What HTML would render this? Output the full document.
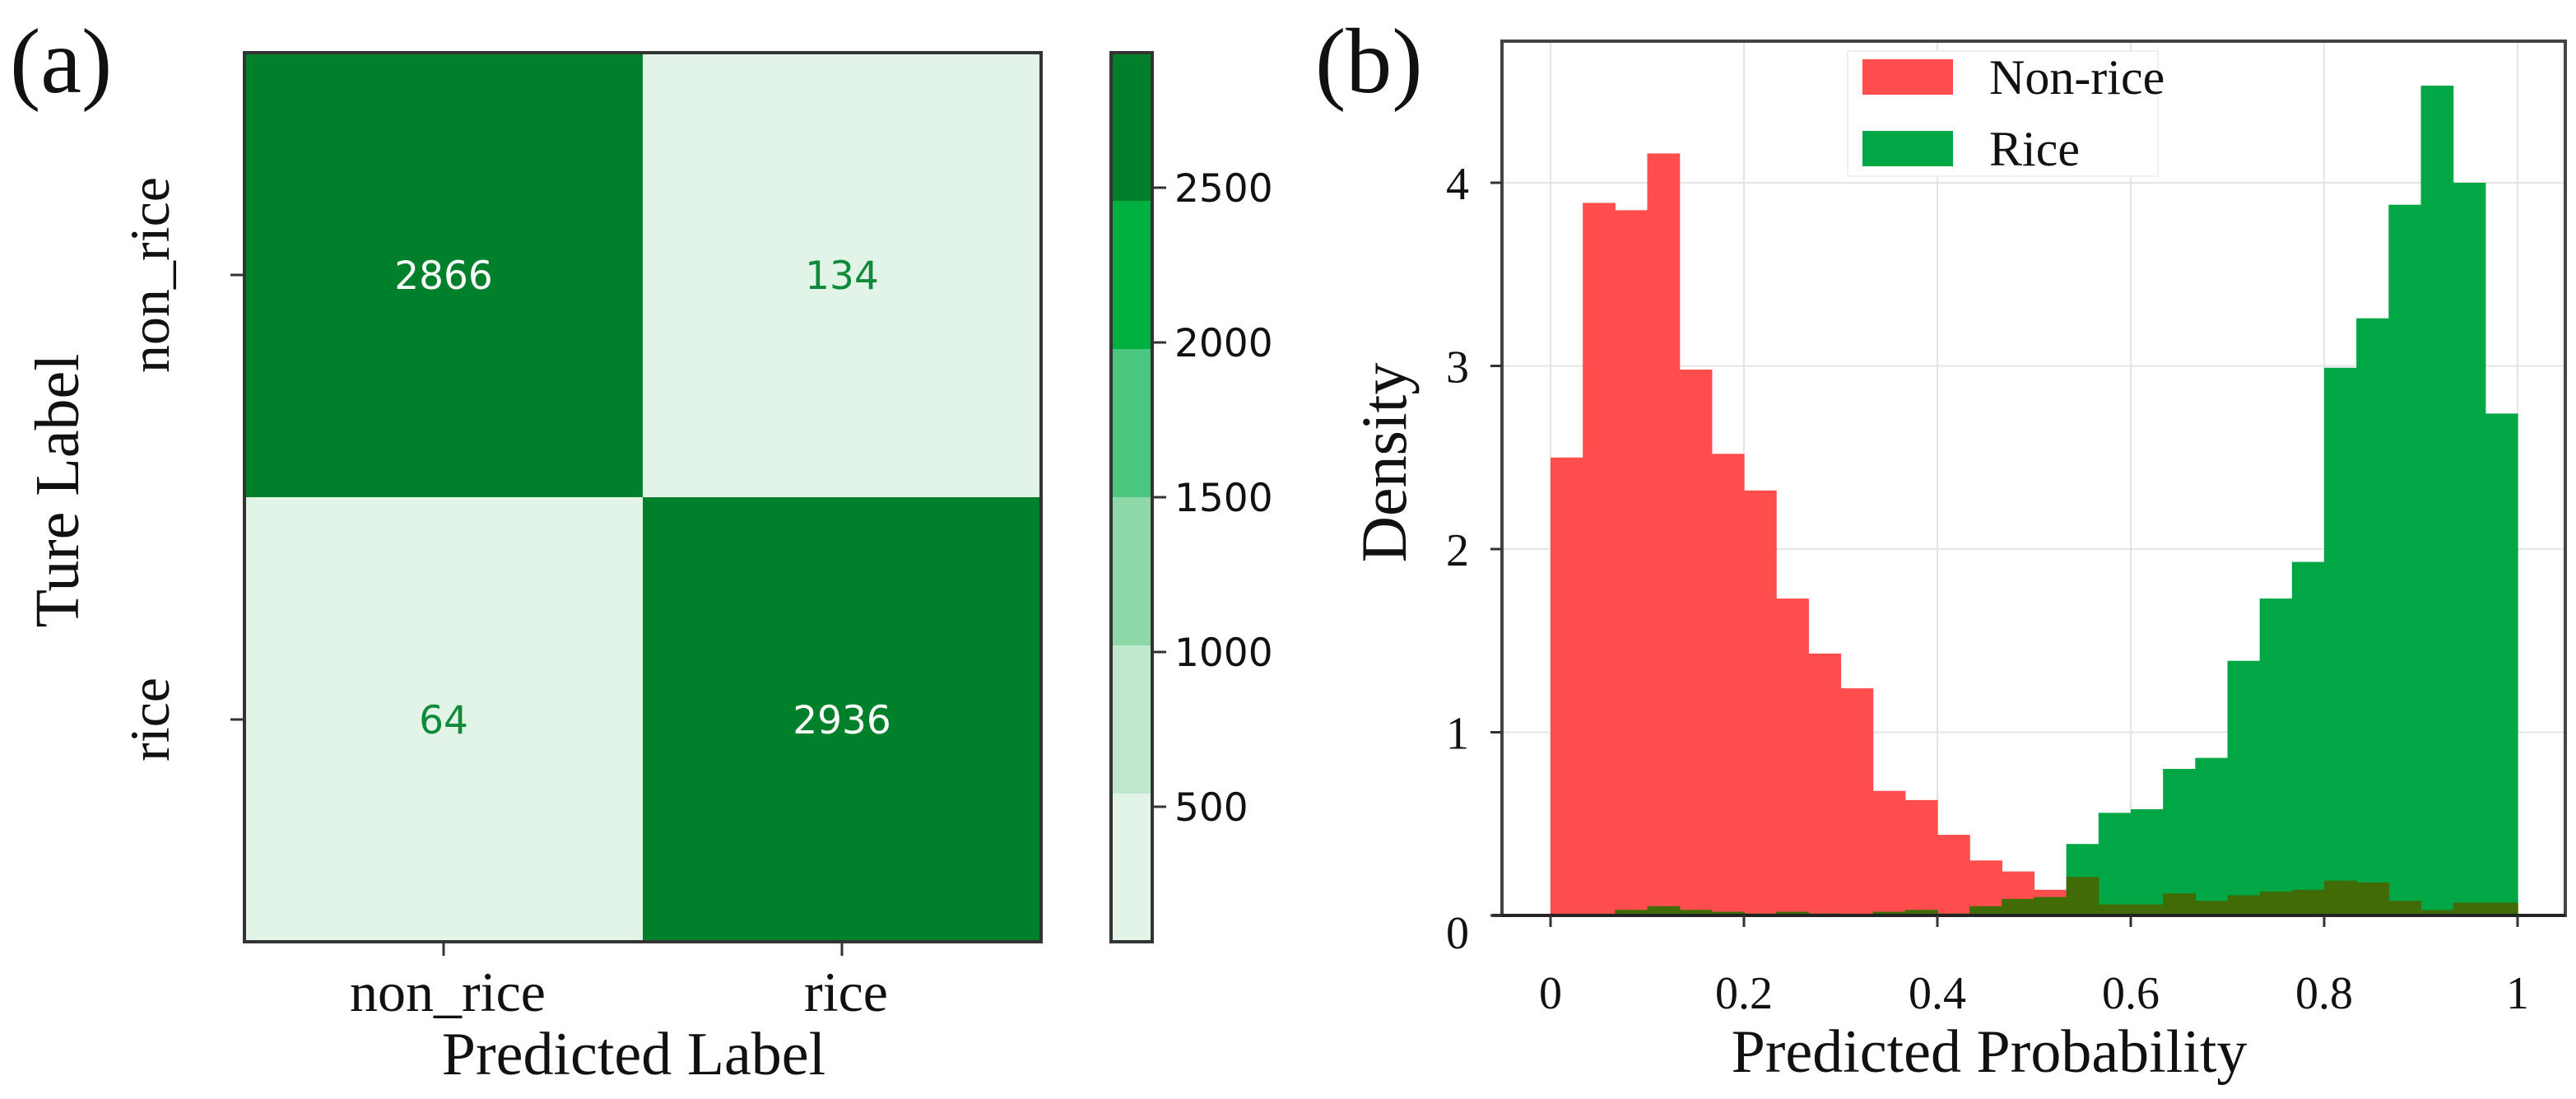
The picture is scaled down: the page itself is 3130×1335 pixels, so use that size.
<!DOCTYPE html>
<html><head><meta charset="utf-8">
<style>
html,body{margin:0;padding:0;background:#fff;}
svg{display:block;}
.serif{font-family:"Liberation Serif","Times New Roman",serif;}
.sans{font-family:"DejaVu Sans","Liberation Sans",sans-serif;}
</style></head>
<body>
<svg id="fig" width="3130" height="1335" viewBox="0 0 3130 1335" xmlns="http://www.w3.org/2000/svg">
  <rect width="3130" height="1335" fill="#fff"/>
  <g id="panelA"></g>
  <g id="panelB"></g>
</svg>
<script>
// ---------- Panel (a) data ----------
const cmRows = ["non_rice", "rice"];
const cmCols = ["non_rice", "rice"];
const cmValues = [[2866, 134], [64, 2936]];
const cbTicks = [500, 1000, 1500, 2000, 2500];
const cbLevels = ["#e2f4e8", "#c0e8cc", "#8ed8a8", "#4cc77f", "#00b040", "#00802a"];

// ---------- Panel (b) data ----------
const binEdgesStart = 0, binEdgesEnd = 1, binCount = 30;
const nonRiceDensity = [2.5, 3.89, 3.85, 4.16, 2.98, 2.52, 2.32, 1.73, 1.43, 1.24, 0.68, 0.63, 0.44, 0.30, 0.24, 0.14, 0.21, 0.06, 0.06, 0.12, 0.08, 0.11, 0.13, 0.14, 0.19, 0.18, 0.08, 0.03, 0.07, 0.07];
const riceDensity = [0, 0, 0.03, 0.05, 0.03, 0.02, 0.01, 0.02, 0.01, 0, 0.02, 0.03, 0.01, 0.05, 0.09, 0.10, 0.39, 0.56, 0.58, 0.80, 0.86, 1.39, 1.73, 1.93, 2.99, 3.26, 3.88, 4.53, 4.00, 2.74];
const xTicks = [0, 0.2, 0.4, 0.6, 0.8, 1];
const xTickLabels = ["0", "0.2", "0.4", "0.6", "0.8", "1"];
const yTicks = [0, 1, 2, 3, 4];
const yTickLabels = ["0", "1", "2", "3", "4"];
const legendLabels = ["Non-rice", "Rice"];

const NS = "http://www.w3.org/2000/svg";
function mk(tag, attrs, parent, text) {
  const e = document.createElementNS(NS, tag);
  for (const k in attrs) e.setAttribute(k, attrs[k]);
  if (text !== undefined) e.textContent = text;
  parent.appendChild(e);
  return e;
}

// ================= Panel A =================
const A = document.getElementById("panelA");
const mL = 297, mR = 1265, mT = 64, mB = 1144;
const vmin = 64, vmax = 2936;
const cellW = (mR - mL) / cmCols.length, cellH = (mB - mT) / cmRows.length;
function levelColor(v) {
  let i = Math.floor((v - vmin) / (vmax - vmin) * cbLevels.length);
  i = Math.max(0, Math.min(cbLevels.length - 1, i));
  return cbLevels[i];
}
cmValues.forEach((row, r) => row.forEach((v, c) => {
  const cell = mk("rect", {x: mL + c * cellW, y: mT + r * cellH, width: cellW, height: cellH, fill: levelColor(v)}, A);
  
  
  const dark = (v - vmin) / (vmax - vmin) > 0.5;
  const t = mk("text", {x: mL + (c + 0.5) * cellW, y: mT + (r + 0.5) * cellH + 17, "text-anchor": "middle", class: "sans", "font-size": 47, fill: dark ? "#ffffff" : "#0e8a38"}, A, String(v));
  
  
}));
const fr = mk("rect", {x: mL, y: mT, width: mR - mL, height: mB - mT, fill: "none", stroke: "#333", "stroke-width": 4}, A);


// y ticks & labels
cmRows.forEach((lab, r) => {
  const cy = mT + (r + 0.5) * cellH;
  mk("line", {x1: mL - 17, x2: mL, y1: cy, y2: cy, stroke: "#333", "stroke-width": 3}, A);
  const t = mk("text", {x: 0, y: 0, transform: `translate(${205},${cy}) rotate(-90)`, "text-anchor": "middle", class: "serif", "font-size": 68, fill: "#111"}, A, lab);
  
  
});
cmCols.forEach((lab, c) => {
  const cx = mL + (c + 0.5) * cellW;
  mk("line", {x1: cx, x2: cx, y1: mB, y2: mB + 17, stroke: "#333", "stroke-width": 3}, A);
  const t = mk("text", {x: cx + 5, y: 1228, "text-anchor": "middle", class: "serif", "font-size": 68, fill: "#111"}, A, lab);
  
  
});
let t;
t = mk("text", {x: 0, y: 0, transform: "translate(95,596) rotate(-90)", "text-anchor": "middle", class: "serif", "font-size": 76, fill: "#111"}, A, "Ture Label");


t = mk("text", {x: 770, y: 1305, "text-anchor": "middle", class: "serif", "font-size": 74, fill: "#111"}, A, "Predicted Label");


t = mk("text", {x: 12, y: 112, class: "serif", "font-size": 112, fill: "#111"}, A, "(a)");


// colorbar
const cbL = 1350, cbR = 1400;
function cbY(v) { return mB - (v - vmin) / (vmax - vmin) * (mB - mT); }
cbLevels.forEach((col, i) => {
  const v0 = vmin + i * (vmax - vmin) / cbLevels.length, v1 = vmin + (i + 1) * (vmax - vmin) / cbLevels.length;
  const b = mk("rect", {x: cbL, y: cbY(v1), width: cbR - cbL, height: cbY(v0) - cbY(v1), fill: col}, A);
  
  
});
const cbf = mk("rect", {x: cbL, y: mT, width: cbR - cbL, height: mB - mT, fill: "none", stroke: "#333", "stroke-width": 4}, A);


cbTicks.forEach(v => {
  const y = cbY(v);
  mk("line", {x1: cbR, x2: cbR + 17, y1: y, y2: y, stroke: "#333", "stroke-width": 3}, A);
  const tt = mk("text", {x: cbR + 27, y: y + 17, class: "sans", "font-size": 47, fill: "#111"}, A, String(v));
  
  
});

// ================= Panel B =================
const B = document.getElementById("panelB");
const bL = 1825, bR = 3117, bT = 50, bB = 1112;
const X = p => 1884 + p * 1175;
const Y = d => bB - d * 222.5;
// gridlines
xTicks.forEach(p => {
  const g = mk("line", {x1: X(p), x2: X(p), y1: bT, y2: bB, stroke: "#e4e4e4", "stroke-width": 2}, B);
  
  
});
yTicks.slice(1).forEach(d => {
  const g = mk("line", {x1: bL, x2: bR, y1: Y(d), y2: Y(d), stroke: "#e4e4e4", "stroke-width": 2}, B);
  
  
});
const bw = (binEdgesEnd - binEdgesStart) / binCount;
function bar(i, d, fill, name) {
  if (d <= 0) return;
  const x0 = X(binEdgesStart + i * bw), x1 = X(binEdgesStart + (i + 1) * bw);
  const r = mk("rect", {x: x0, y: Y(d), width: x1 - x0 + 0.6, height: Y(0) - Y(d), fill: fill}, B);
  
  
}
nonRiceDensity.forEach((d, i) => bar(i, d, "#ff4c4c", 'non-rice-bar'));
riceDensity.forEach((d, i) => bar(i, d, "#00a744", 'rice-bar'));
nonRiceDensity.forEach((d, i) => bar(i, Math.min(d, riceDensity[i]), "#3f6c06", 'overlap-bar'));
// frame
const bf = mk("rect", {x: bL, y: bT, width: bR - bL, height: bB - bT, fill: "none", stroke: "#444", "stroke-width": 4}, B);


mk("line", {x1: bL - 12, x2: bR, y1: bB, y2: bB, stroke: "#222", "stroke-width": 4}, B);
xTicks.forEach((p, i) => {
  mk("line", {x1: X(p), x2: X(p), y1: bB, y2: bB + 14, stroke: "#333", "stroke-width": 3}, B);
  const tt = mk("text", {x: X(p), y: 1225, "text-anchor": "middle", class: "serif", "font-size": 56, fill: "#111"}, B, xTickLabels[i]);
  
  
});
yTicks.forEach((d, i) => {
  mk("line", {x1: bL - 14, x2: bL, y1: Y(d), y2: Y(d), stroke: "#333", "stroke-width": 3}, B);
  const tt = mk("text", {x: 1771, y: Y(d) + 20 + (i === 0 ? 20 : 0), "text-anchor": "middle", class: "serif", "font-size": 56, fill: "#111"}, B, yTickLabels[i]);
  
  
});
t = mk("text", {x: 0, y: 0, transform: "translate(1708,562) rotate(-90)", "text-anchor": "middle", class: "serif", "font-size": 78, fill: "#111"}, B, "Density");


t = mk("text", {x: 2417, y: 1302, "text-anchor": "middle", class: "serif", "font-size": 74, fill: "#111"}, B, "Predicted Probability");


t = mk("text", {x: 1598, y: 112, class: "serif", "font-size": 112, fill: "#111"}, B, "(b)");


// legend
const lg = mk("g", {}, B);


mk("rect", {x: 2245, y: 62, width: 377, height: 152, fill: "#fff", stroke: "#f0f0f0", "stroke-width": 2}, lg);
const legColors = ["#ff4c4c", "#00a744"];
legendLabels.forEach((lab, i) => {
  const sw = mk("rect", {x: 2263, y: 72 + i * 87, width: 110, height: 43, fill: legColors[i]}, lg);
  
  
  const lt = mk("text", {x: 2417, y: 114 + i * 87, class: "serif", "font-size": 60, fill: "#111"}, lg, lab);
  
  
});
</script>
</body></html>
